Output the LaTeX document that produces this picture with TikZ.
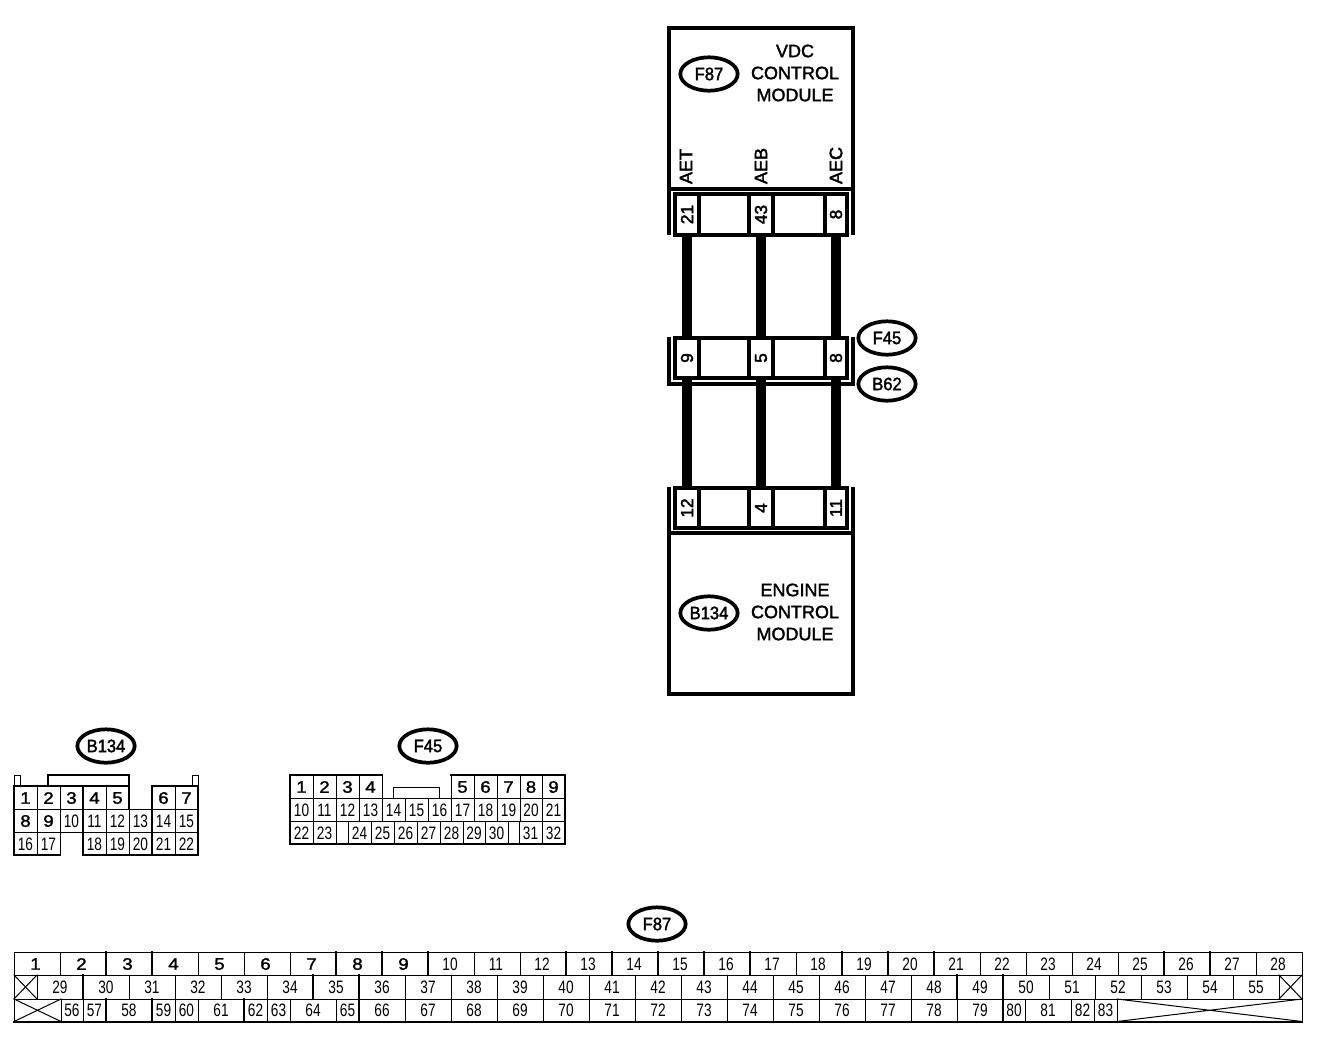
\documentclass[tikz,border=0pt]{standalone}
\usepackage{fontspec}
\usetikzlibrary{shapes.geometric}
\setmainfont{Liberation Sans}
\newfontfamily\thinnum[FakeStretch=0.76]{Liberation Sans}
\newfontfamily\boldnum[FakeStretch=1.12,FakeBold=1.6]{Liberation Sans}
\newfontfamily\medlab[FakeBold=1.8]{Liberation Sans}
\newfontfamily\taglab[FakeStretch=0.92,FakeBold=1.8]{Liberation Sans}
\newfontfamily\pinlab[FakeBold=2.2]{Liberation Sans}
\tikzset{
  lbl/.style={inner sep=0pt,outer sep=0pt},
  grid/.style={line width=0.75pt,line cap=rect},
  gridb/.style={line width=1.5pt,line cap=rect},
  heavy/.style={line width=3pt,line cap=butt,line join=miter},
  wire/.style={line width=7.6pt,line cap=butt},
  tag/.style={draw,ellipse,line width=2.8pt,minimum width=43pt,minimum height=25pt,inner sep=0pt,fill=white,font=\fontsize{13.5}{15}\taglab},
  thinpin/.style={lbl,font=\fontsize{13.5}{15}\thinnum},
  boldpin/.style={lbl,font=\fontsize{12.5}{14}\boldnum},
  pincell/.style={lbl,minimum width=15pt,minimum height=27.5pt,font=\fontsize{13}{14}\pinlab},
  modtext/.style={lbl,align=center,font=\fontsize{13.5}{16.5}\medlab},
  sig/.style={lbl,font=\fontsize{13.5}{15}\pinlab},
}
\begin{document}
\begin{tikzpicture}[x=0.75pt,y=-0.75pt]
\fill[white] (0,0) rectangle (1328,1054);
\useasboundingbox (0,0) rectangle (1328,1054);

% --- upper module
\draw[heavy] (669,235) -- (669,28) -- (853,28) -- (853,235);
\draw[heavy] (669,188.5) -- (853,188.5);
\draw[heavy] (675,194) rectangle (847,235);
\foreach \x in {699,749,772.5,825} \draw[heavy] (\x,194) -- (\x,235);
\node[pincell] (a21) at (687,214.5) {\rotatebox{90}{21}};
\node[pincell] (a43) at (761,214.5) {\rotatebox{90}{43}};
\node[pincell] (a8)  at (836,214.5) {\rotatebox{90}{8}};
\node[modtext] (vdc) at (795,73) {VDC\\CONTROL\\MODULE};
\node[tag] (f87a) at (709,74) {F87};
\node[sig,rotate=90,anchor=west] (aet) at (686,184) {AET};
\node[sig,rotate=90,anchor=west] (aeb) at (761,184) {AEB};
\node[sig,rotate=90,anchor=west] (aec) at (836,184) {AEC};

% --- middle connector
\draw[heavy] (675,338) rectangle (847,378);
\draw[heavy] (669,337) -- (669,383.5) -- (853,383.5) -- (853,337);
\foreach \x in {699,749,772.5,825} \draw[heavy] (\x,338) -- (\x,378);
\node[pincell] (b9) at (687,358) {\rotatebox{90}{9}};
\node[pincell] (b5) at (761,358) {\rotatebox{90}{5}};
\node[pincell] (b8) at (836,358) {\rotatebox{90}{8}};
\node[tag] (f45a) at (887,338) {F45};
\node[tag] (b62) at (887,384) {B62};

% --- lower module
\draw[heavy] (675,488) rectangle (847,528);
\foreach \x in {699,749,772.5,825} \draw[heavy] (\x,488) -- (\x,528);
\draw[heavy] (669,487) -- (669,694) -- (853,694) -- (853,487);
\draw[heavy] (669,533) -- (853,533);
\node[pincell] (c12) at (687,508) {\rotatebox{90}{12}};
\node[pincell] (c4)  at (761,508) {\rotatebox{90}{4}};
\node[pincell] (c11) at (836,508) {\rotatebox{90}{11}};
\node[modtext] (ecm) at (795,612) {ENGINE\\CONTROL\\MODULE};
\node[tag] (b134a) at (709,613) {B134};

% --- wires
\draw[wire] (a21.south) -- (b9.north);
\draw[wire] (a43.south) -- (b5.north);
\draw[wire] (a8.south)  -- (b8.north);
\draw[wire] (b9.south)  -- (c12.north);
\draw[wire] (b5.south)  -- (c4.north);
\draw[wire] (b8.south)  -- (c11.north);

% --- connector B134
\node[tag] (b134b) at (106,746) {B134};
\draw[gridb] (14,786) -- (129,786) (152,786) -- (198,786);
\draw[gridb] (14,855) -- (60,855) (83,855) -- (198,855);
\draw[grid] (14,809) -- (198,809) (14,832) -- (198,832);
\foreach \x in {14,37,60,83,106,129,152,175,198} \draw[grid] (\x,786) -- (\x,855);
\foreach \x in {14,83,152,198} \draw[gridb] (\x,786) -- (\x,855);
\draw[gridb] (48,786) -- (48,775) -- (129,775) -- (129,809);
\draw[grid] (14,786) -- (14,775) -- (20,775) -- (20,786);
\draw[grid] (192,786) -- (192,775) -- (198,775) -- (198,786);
\foreach \c/\n in {0/1,1/2,2/3,3/4,4/5,6/6,7/7}
  \node[boldpin] (bA\n) at ({25.5+23*\c},798) {\n};
\foreach \c/\n in {0/8,1/9}
  \node[boldpin] (bA\n) at ({25.5+23*\c},821) {\n};
\foreach \c/\n in {2/10,3/11,4/12,5/13,6/14,7/15}
  \node[thinpin] (bA\n) at ({25.5+23*\c},821) {\n};
\foreach \c/\n in {0/16,1/17,3/18,4/19,5/20,6/21,7/22}
  \node[thinpin] (bA\n) at ({25.5+23*\c},844) {\n};

% --- connector F45
\node[tag] (f45b) at (428,746) {F45};
\draw[gridb] (290,775) -- (382,775) (451,775) -- (565,775);
\draw[grid] (290,798) -- (565,798) (290,821) -- (565,821);
\draw[gridb] (290,844) -- (565,844);
\foreach \x in {290,313,336,359,382,451,474,497,520,542,565} \draw[grid] (\x,775) -- (\x,798);
\foreach \x in {290,313,336,359,382,405,428,451,474,497,520,542,565} \draw[grid] (\x,798) -- (\x,821);
\foreach \x in {290,313,336,348,371,394,417,440,463,485,508,519,542,565} \draw[grid] (\x,821) -- (\x,844);
\foreach \x in {290,565} \draw[gridb] (\x,775) -- (\x,844);
\draw[grid] (393,798) -- (393,787) -- (439,787) -- (439,798);
\foreach \x/\n in {301.5/1,324.5/2,347.5/3,370.5/4,462.5/5,485.5/6,508.5/7,531/8,553.5/9}
  \node[boldpin] (fA\n) at (\x,787) {\n};
\foreach \x/\n in {301.5/10,324.5/11,347.5/12,370.5/13,393.5/14,416.5/15,439.5/16,462.5/17,485.5/18,508.5/19,531/20,553.5/21}
  \node[thinpin] (fA\n) at (\x,810) {\n};
\foreach \x/\n in {301.5/22,324.5/23,359.5/24,382.5/25,405.5/26,428.5/27,451.5/28,474/29,496.5/30,530.5/31,553.5/32}
  \node[thinpin] (fA\n) at (\x,833) {\n};

% --- connector F87
\node[tag] (f87b) at (657,924) {F87};
\draw[grid] (14,952) -- (1302,952) (14,975) -- (1302,975) (14,999) -- (1302,999);
\draw[gridb] (14,1021.5) -- (1302,1021.5);
\foreach \i in {0,...,28} \draw[grid] ({14+46*\i},952) -- ({14+46*\i},975);
\foreach \x in {106,152,336,382,428,566,612,658,704,750,842,888,934,1164,1210}
  \draw[gridb] (\x,952) -- (\x,975);
\foreach \i in {0,...,27} \draw[grid] ({37+46*\i},975) -- ({37+46*\i},999);
\foreach \x in {83,313,359,957,1003} \draw[gridb] (\x,975) -- (\x,999);
\foreach \x in {61,83,106,152,175,198,244,267,290,336,359,405,451,497,543,589,635,681,727,773,819,865,911,957,1003,1025,1071,1094,1117}
  \draw[grid] (\x,999) -- (\x,1021.5);
\foreach \x in {106,152,244,359,1003} \draw[gridb] (\x,999) -- (\x,1021.5);
\draw[grid] (14,952) -- (14,1021.5) (1302,952) -- (1302,1021.5);
\draw[grid] (14,975) -- (37,999) (37,975) -- (14,999);
\draw[grid] (1279,975) -- (1302,999) (1302,975) -- (1279,999);
\draw[grid] (14,999) -- (61,1021.5) (61,999) -- (14,1021.5);
\draw[grid] (1117,999) -- (1302,1021.5) (1302,999) -- (1117,1021.5);
\foreach \n [count=\i from 0] in {1,2,3,4,5,6,7,8,9}
  \node[boldpin] (tA\n) at ({35.5+46*\i},964) {\n};
\foreach \n [count=\i from 9] in {10,11,12,13,14,15,16,17,18,19,20,21,22,23,24,25,26,27,28}
  \node[thinpin] (tA\n) at ({36+46*\i},964) {\n};
\foreach \n [count=\i from 0] in {29,30,31,32,33,34,35,36,37,38,39,40,41,42,43,44,45,46,47,48,49,50,51,52,53,54,55}
  \node[thinpin] (tA\n) at ({60+46*\i},987) {\n};
\foreach \x/\n in {72/56,94.5/57,129/58,163.5/59,186.5/60,221/61,255.5/62,278.5/63,313/64,347.5/65,382/66,428/67,474/68,520/69,566/70,612/71,658/72,704/73,750/74,796/75,842/76,888/77,934/78,980/79,1014/80,1048/81,1082.5/82,1105.5/83}
  \node[thinpin] (tA\n) at (\x,1010) {\n};
\end{tikzpicture}
\end{document}
